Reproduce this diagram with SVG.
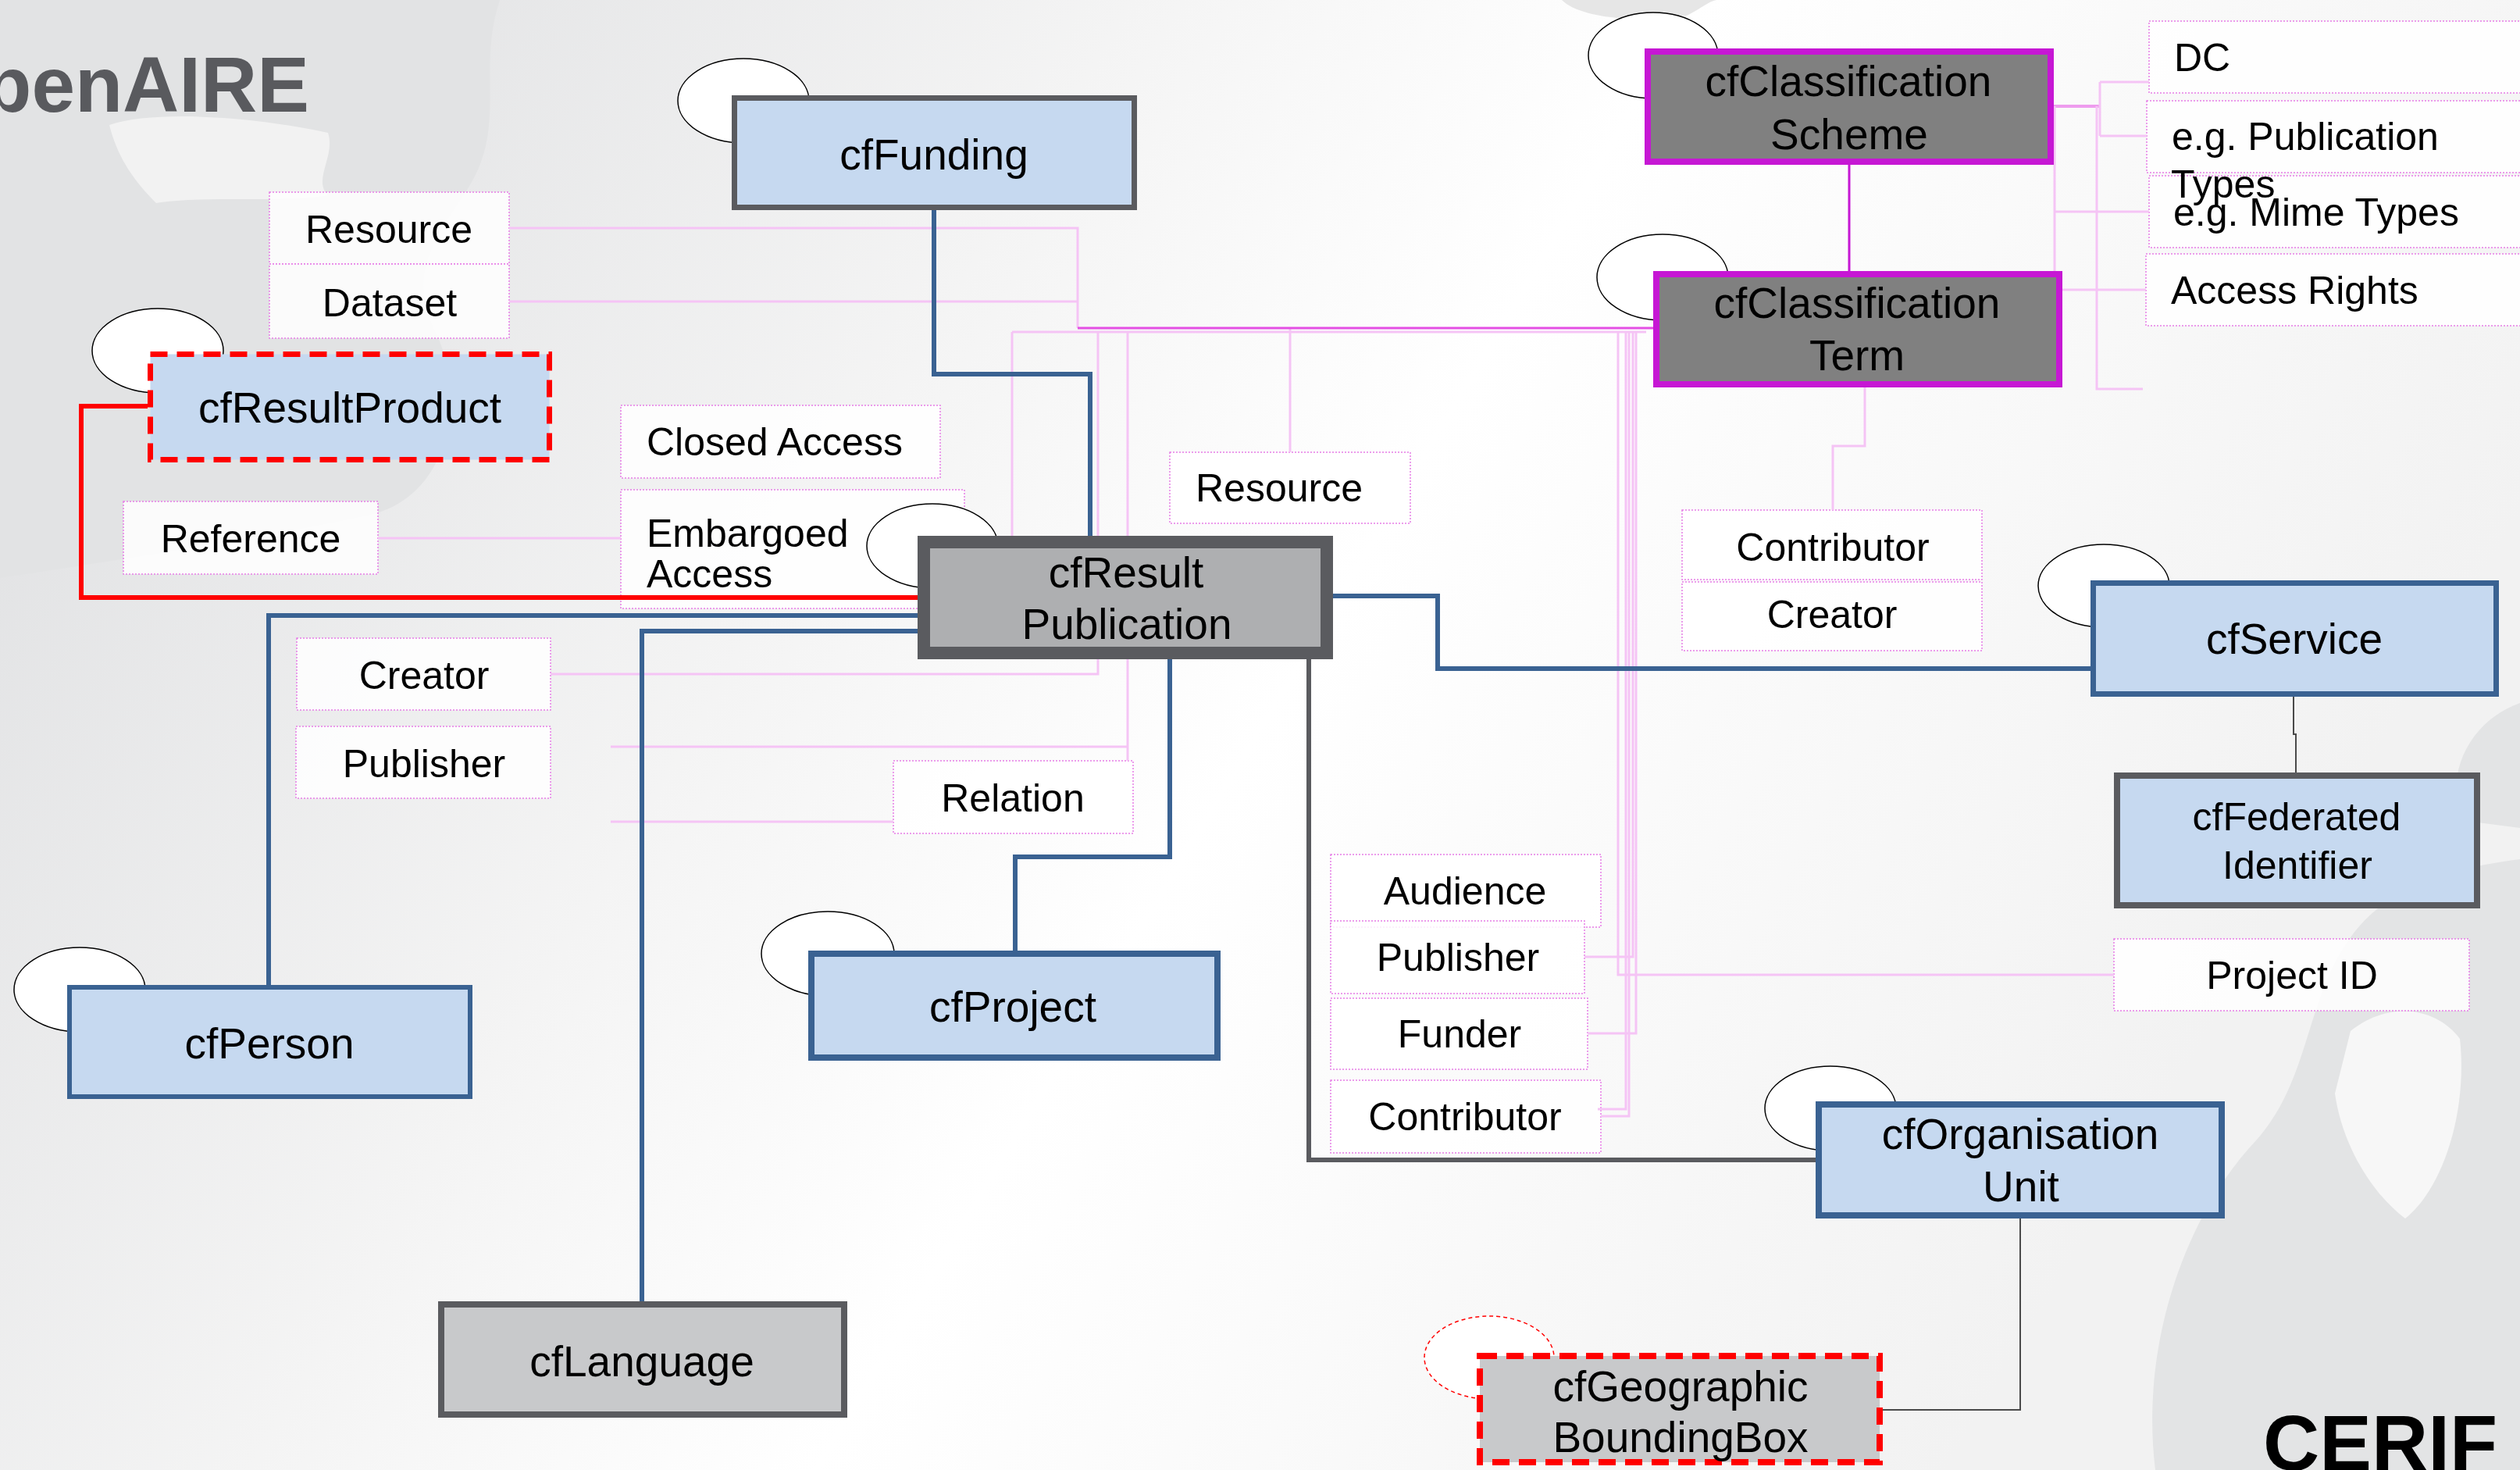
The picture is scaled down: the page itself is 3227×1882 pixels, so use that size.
<svg xmlns="http://www.w3.org/2000/svg" width="3227" height="1882" viewBox="0 0 3227 1882">
<defs>
<linearGradient id="bg" x1="0" y1="0" x2="1" y2="0.35">
<stop offset="0" stop-color="#dcdddf"/>
<stop offset="0.4" stop-color="#f4f4f4"/>
<stop offset="0.6" stop-color="#ffffff"/>
<stop offset="1" stop-color="#f2f2f2"/>
</linearGradient>
<style>
.t{font-family:"Liberation Sans",Arial,sans-serif;fill:#000;}
.s50{font-size:50px;}
.s55{font-size:55px;}
.m{text-anchor:middle;}
.lbl{fill:#ffffff;fill-opacity:0.85;stroke:#e67ee6;stroke-width:1.5;stroke-dasharray:2 2;}
.pk{fill:none;stroke:#f5c4f5;stroke-width:3;}
.pk2{fill:none;stroke:#ee9cee;stroke-width:4;}
.mg{fill:none;stroke:#e44fe4;stroke-width:3;}
.bl{fill:none;stroke:#3a6292;stroke-width:6;}
.rd{fill:none;stroke:#ff0000;stroke-width:6;}
.gy{fill:none;stroke:#5a5b5f;stroke-width:6;}
.thin{fill:none;stroke:#4a4a4a;stroke-width:2;}
.ell{fill:#ffffff;stroke:#000;stroke-width:1.5;}
.nblue{fill:#c6d9f0;stroke:#3a6292;}
.ngray{stroke:#5a5b5f;}
.nmag{fill:#808080;stroke:#c617d4;stroke-width:8;}
</style>
</defs>
<g id="background">
<rect x="0" y="0" width="3227" height="1882" fill="url(#bg)"/>
<path d="M0,0 H640 C610,90 650,160 600,240 C555,310 520,350 560,430 C600,520 570,640 470,660 C380,680 260,700 0,740 Z" fill="#e2e3e4"/>
<path d="M140,160 C200,140 330,150 420,170 C430,200 400,230 420,250 C360,260 260,250 200,260 C170,230 150,200 140,160 Z" fill="#f2f2f2"/>
<path d="M2000,0 C2020,20 2080,30 2160,20 C2180,10 2190,0 2200,0 Z" fill="#e6e6e6"/>
<path d="M2760,1882 C2740,1720 2800,1560 2880,1470 C2960,1390 2950,1280 3010,1200 C3060,1130 3150,1110 3227,1100 V1882 Z" fill="#e3e4e5"/>
<path d="M3010,1320 C3060,1280 3120,1290 3150,1330 C3160,1420 3130,1520 3080,1560 C3040,1530 3000,1470 2990,1400 Z" fill="#f7f7f7"/>
<path d="M3227,900 C3170,920 3130,980 3150,1050 L3227,1060 Z" fill="#e3e4e5"/>
</g>
<g id="title">
<text class="t" x="396" y="143" text-anchor="end" font-size="100" font-weight="bold" style="fill:#595a5e">OpenAIRE</text>
<text class="t" x="2898" y="1882" font-size="100" font-weight="bold">CERIF</text>
</g>
<g id="labels">
<g id="lbl-resource1"><rect class="lbl" x="345" y="246" width="307" height="92"/><text class="t s50 m" x="498" y="311">Resource</text></g>
<g id="lbl-dataset"><rect class="lbl" x="345" y="338" width="307" height="95"/><text class="t s50 m" x="499" y="405">Dataset</text></g>
<g id="lbl-reference"><rect class="lbl" x="158" y="642" width="326" height="93"/><text class="t s50 m" x="321" y="707">Reference</text></g>
<g id="lbl-closed"><rect class="lbl" x="795" y="519" width="409" height="93"/><text class="t s50" x="828" y="583">Closed Access</text></g>
<g id="lbl-embargoed"><rect class="lbl" x="795" y="627" width="440" height="152"/><text class="t s50" x="828" y="700">Embargoed</text><text class="t s50" x="828" y="752">Access</text></g>
<g id="lbl-creator1"><rect class="lbl" x="380" y="817" width="325" height="92"/><text class="t s50 m" x="543" y="882">Creator</text></g>
<g id="lbl-publisher1"><rect class="lbl" x="379" y="930" width="326" height="92"/><text class="t s50 m" x="543" y="995">Publisher</text></g>
<g id="lbl-resource2"><rect class="lbl" x="1498" y="579" width="308" height="91"/><text class="t s50 m" x="1638" y="642">Resource</text></g>
<g id="lbl-relation"><rect class="lbl" x="1144" y="974" width="307" height="93"/><text class="t s50 m" x="1297" y="1039">Relation</text></g>
<g id="lbl-audience"><rect class="lbl" x="1704" y="1094" width="346" height="93"/><text class="t s50 m" x="1876" y="1158">Audience</text></g>
<g id="lbl-publisher2"><rect class="lbl" x="1704" y="1179" width="325" height="93"/><text class="t s50 m" x="1867" y="1243">Publisher</text></g>
<g id="lbl-funder"><rect class="lbl" x="1704" y="1278" width="329" height="91"/><text class="t s50 m" x="1869" y="1341">Funder</text></g>
<g id="lbl-contributor1"><rect class="lbl" x="1704" y="1383" width="346" height="93"/><text class="t s50 m" x="1876" y="1447">Contributor</text></g>
<g id="lbl-contributor2"><rect class="lbl" x="2154" y="653" width="384" height="89"/><text class="t s50 m" x="2347" y="718">Contributor</text></g>
<g id="lbl-creator2"><rect class="lbl" x="2154" y="745" width="384" height="88"/><text class="t s50 m" x="2346" y="804">Creator</text></g>
<g id="lbl-dc"><rect class="lbl" x="2752" y="27" width="490" height="92"/><text class="t s50" x="2784" y="91">DC</text></g>
<g id="lbl-mime"><rect class="lbl" x="2752" y="225" width="490" height="92"/><text class="t s50" x="2783" y="289">e.g. Mime Types</text></g>
<g id="lbl-pubtypes"><rect class="lbl" x="2749" y="129" width="493" height="92"/><text class="t s50" x="2781" y="192">e.g. Publication</text><text class="t s50" x="2780" y="253">Types</text></g>
<g id="lbl-access"><rect class="lbl" x="2748" y="325" width="494" height="92"/><text class="t s50" x="2780" y="389">Access Rights</text></g>
<g id="lbl-projectid"><rect class="lbl" x="2707" y="1202" width="455" height="92"/><text class="t s50 m" x="2935" y="1266">Project ID</text></g>
</g>
<g id="connectors">
<path class="pk" d="M652,292 H1380 V420 M652,386 H1380"/>
<path class="pk" d="M484,689 H795"/>
<path class="pk" d="M1296,425 H2108 M1296,425 V686"/>
<path class="pk" d="M1406,425 V863 H705"/>
<path class="pk" d="M1444,425 V974 M1444,956 H782"/>
<path class="pk" d="M782,1052 H1144"/>
<path class="pk" d="M1652,420 V579"/>
<path class="pk" d="M2072,424 V1248 H2707"/>
<path class="pk" d="M2082,424 V1420 H2046"/>
<path class="pk" d="M2086,424 V1429 H2050"/>
<path class="pk" d="M2091,424 V1225 H2029"/>
<path class="pk" d="M2095,424 V1323 H2033"/>
<path class="pk2" d="M2629,136 H2689"/>
<path class="pk" d="M2689,105 V174 M2689,105 H2752 M2689,174 H2749"/>
<path class="pk" d="M2631,136 V347 M2631,271 H2752"/>
<path class="pk" d="M2685,136 V498 H2744"/>
<path class="pk" d="M2641,371 H2748"/>
<path class="pk" d="M2388,496 V571 H2347 V653"/>
<path class="mg" d="M1380,420 H2117"/>
<path d="M2368,211 V347" fill="none" stroke="#c617d4" stroke-width="3"/>
<path class="rd" d="M189,520 H104 V765 H1175"/>
<path class="bl" d="M1175,788 H344 V1261"/>
<path class="bl" d="M1175,808 H822 V1666"/>
<path class="bl" d="M1196,269 V479 H1396 V686"/>
<path class="bl" d="M1707,763 H1841 V856 H2677"/>
<path class="bl" d="M1498,844 V1097 H1300 V1217"/>
<path class="gy" d="M1676,844 V1485 H2325"/>
<path class="thin" d="M2937,892 V940 H2940 V989"/>
<path class="thin" d="M2587,1560 V1805 H2411"/>
</g>
<g id="cfFunding">
<ellipse class="ell" cx="952" cy="129" rx="84" ry="54"/>
<rect x="940.5" y="125.5" width="512" height="140" fill="#c6d9f0" class="ngray" stroke-width="7"/>
<text class="t s55 m" x="1196" y="217">cfFunding</text>
</g>
<g id="cfResultProduct">
<ellipse class="ell" cx="202" cy="449" rx="84" ry="54"/>
<rect x="192.5" y="453.5" width="511" height="135" fill="#c6d9f0" stroke="#ff0000" stroke-width="7" stroke-dasharray="22 12"/>
<text class="t s55 m" x="448" y="541">cfResultProduct</text>
</g>
<g id="cfResultPublication">
<ellipse class="ell" cx="1194" cy="699" rx="84" ry="54"/>
<rect x="1183" y="694" width="516" height="142" fill="#aeafb1" class="ngray" stroke-width="16"/>
<text class="t s55 m" x="1442" y="752">cfResult</text>
<text class="t s55 m" x="1443" y="818">Publication</text>
</g>
<g id="cfPerson">
<ellipse class="ell" cx="102" cy="1267" rx="84" ry="54"/>
<rect x="89" y="1264" width="513" height="140" class="nblue" stroke-width="6"/>
<text class="t s55 m" x="345" y="1355">cfPerson</text>
</g>
<g id="cfProject">
<ellipse class="ell" cx="1060" cy="1221" rx="85" ry="54"/>
<rect x="1039" y="1221" width="520" height="133" class="nblue" stroke-width="8"/>
<text class="t s55 m" x="1297" y="1308">cfProject</text>
</g>
<g id="cfLanguage">
<rect x="565" y="1670" width="516" height="141" fill="#c8c9cb" class="ngray" stroke-width="8"/>
<text class="t s55 m" x="822" y="1762">cfLanguage</text>
</g>
<g id="cfClassificationScheme">
<ellipse class="ell" cx="2117" cy="71" rx="83" ry="55"/>
<rect x="2110" y="66" width="516" height="141" class="nmag"/>
<text class="t s55 m" x="2367" y="123">cfClassification</text>
<text class="t s55 m" x="2368" y="191">Scheme</text>
</g>
<g id="cfClassificationTerm">
<ellipse class="ell" cx="2129" cy="355" rx="84" ry="55"/>
<rect x="2121" y="351" width="516" height="141" class="nmag"/>
<text class="t s55 m" x="2378" y="407">cfClassification</text>
<text class="t s55 m" x="2378" y="474">Term</text>
</g>
<g id="cfService">
<ellipse class="ell" cx="2694" cy="750" rx="84" ry="53"/>
<rect x="2680.5" y="746.5" width="516" height="142" class="nblue" stroke-width="7"/>
<text class="t s55 m" x="2938" y="837">cfService</text>
</g>
<g id="cfFederatedIdentifier">
<rect x="2711" y="993" width="461" height="166" fill="#c6d9f0" class="ngray" stroke-width="8"/>
<text class="t s50 m" x="2941" y="1063">cfFederated</text>
<text class="t s50 m" x="2942" y="1125">Identifier</text>
</g>
<g id="cfOrganisationUnit">
<ellipse class="ell" cx="2344" cy="1419" rx="84" ry="54"/>
<rect x="2329" y="1414" width="516" height="142" class="nblue" stroke-width="8"/>
<text class="t s55 m" x="2587" y="1471">cfOrganisation</text>
<text class="t s55 m" x="2588" y="1538">Unit</text>
</g>
<g id="cfGeographicBoundingBox">
<ellipse cx="1907" cy="1738" rx="83" ry="53" fill="#ffffff" stroke="#ff0000" stroke-width="1.5" stroke-dasharray="5 4"/>
<rect x="1895" y="1736" width="512" height="136" fill="#c8c9cb" stroke="#ff0000" stroke-width="8" stroke-dasharray="22 12"/>
<text class="t s55 m" x="2152" y="1794">cfGeographic</text>
<text class="t s55 m" x="2152" y="1859">BoundingBox</text>
</g>
</svg>
